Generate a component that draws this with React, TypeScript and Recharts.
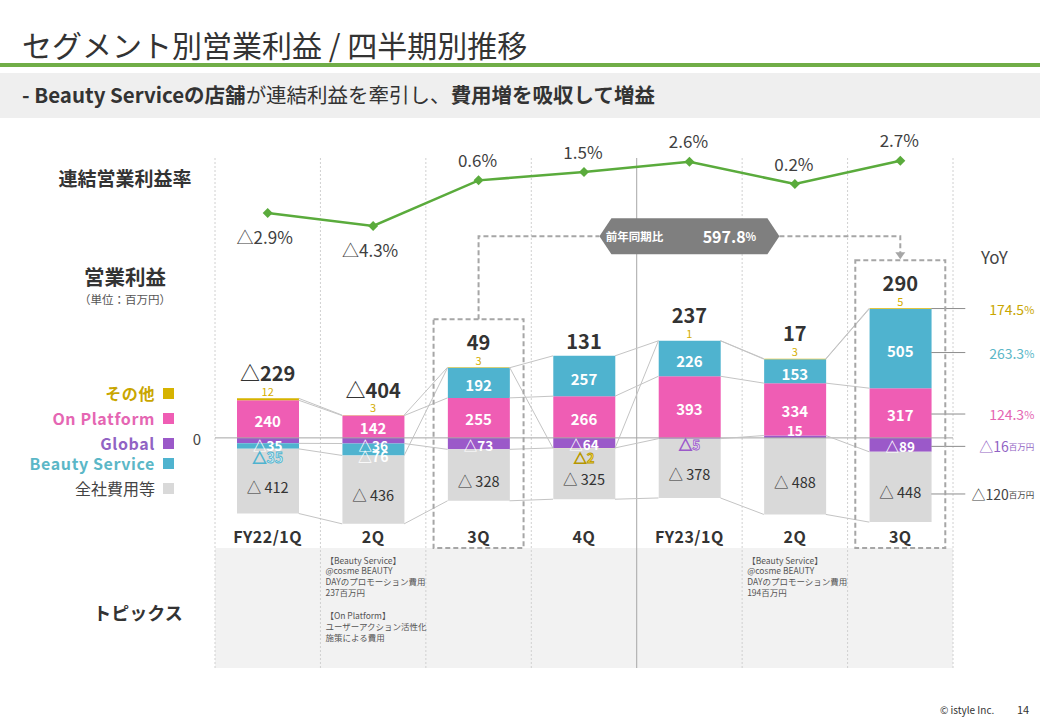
import React from "react";
import { ComposedChart, Bar, Line, XAxis, YAxis, ReferenceLine } from "recharts";

const quarters = ["FY22/1Q", "2Q", "3Q", "4Q", "FY23/1Q", "2Q", "3Q"];
const globalProfit = [-35, -36, -73, -64, -5, 15, -89];
const onPlatformProfit = [240, 142, 255, 266, 393, 334, 317];
const beautyServiceProfit = [-35, -76, 192, 257, 226, 153, 505];
const otherProfit = [12, 3, 3, -2, 1, 3, 5];
const corporateCost = [-412, -436, -328, -325, -378, -488, -448];
const totalProfit = [-229, -404, 49, 131, 237, 17, 290];
const marginRate = [-2.9, -4.3, 0.6, 1.5, 2.6, 0.2, 2.7];
const highlighted = [2, 6];
const yoyChange = "597.8";

const SERIES = [
  { key: "global", name: "Global", color: "#9b59c9", text: "#9163c4", yoy: "△16", unit: "百万円" },
  { key: "onPlatform", name: "On Platform", color: "#ef5db4", text: "#e566b3", yoy: "124.3", unit: "%" },
  { key: "beauty", name: "Beauty Service", color: "#4fb3cf", text: "#5bb7c7", yoy: "263.3", unit: "%" },
  { key: "others", name: "その他", color: "#d6b300", text: "#c9a600", yoy: "174.5", unit: "%" },
  { key: "corporate", name: "全社費用等", color: "#d9d9d9", text: "#444", yoy: "△120", unit: "百万円" },
];
const seriesValues: Record<string, number[]> = {
  global: globalProfit,
  onPlatform: onPlatformProfit,
  beauty: beautyServiceProfit,
  others: otherProfit,
  corporate: corporateCost,
};

const topicNotes = [
  {
    col: 1,
    lines: ["【Beauty Service】", "@cosme BEAUTY", "DAYのプロモーション費用", "237百万円", "", "【On Platform】", "ユーザーアクション活性化", "施策による費用"],
  },
  { col: 5, lines: ["【Beauty Service】", "@cosme BEAUTY", "DAYのプロモーション費用", "194百万円"] },
];

const FONT = "'Noto Sans CJK JP', 'Noto Sans', sans-serif";
const W = 1040;
const H = 720;
const PLOT = { left: 215, right: 953, top: 132, bottom: 532 };
const AXIS_H = 20;
const BAND = (PLOT.right - PLOT.left) / quarters.length;
const BAR = 62;
const TOPIC_TOP = 548;
const TOPIC_BOTTOM = 668;
const GRID_TOP = 158;

// stack the same way stackOffset="sign" does, to get mid / edge values for labels
const rows = quarters.map((q, i) => {
  const row: any = { id: `q${i}`, label: q, total: totalProfit[i], rate: marginRate[i] };
  let pos = 0;
  let neg = 0;
  SERIES.forEach((s) => {
    const v = seriesValues[s.key][i];
    let lo: number, hi: number;
    if (v >= 0) {
      lo = pos;
      hi = pos + v;
      pos = hi;
    } else {
      hi = neg;
      lo = neg + v;
      neg = lo;
    }
    row[s.key] = v;
    row[s.key + "Mid"] = (lo + hi) / 2;
    row[s.key + "Edge"] = v >= 0 ? hi : lo;
  });
  row.posTop = pos;
  return row;
});
const labelOf: Record<string, string> = Object.fromEntries(rows.map((r) => [r.id, r.label]));

const fmt = (v: number, space = false) => (v < 0 ? `△${space ? " " : ""}${Math.abs(v)}` : `${v}`);

const connectorDot = (p: any) => {
  const next = p.points?.[p.index + 1];
  if (!next) return <g key={`c-${p.dataKey}-${p.index}`} />;
  return (
    <line
      key={`c-${p.dataKey}-${p.index}`}
      x1={p.cx + BAR / 2}
      y1={p.cy}
      x2={next.x - BAR / 2}
      y2={next.y}
      stroke="#c4c4c4"
      strokeWidth={1}
    />
  );
};

const labelDot = (s: (typeof SERIES)[number]) => (p: any) => {
  const i = p.index;
  const v = seriesValues[s.key][i];
  let y = p.cy;
  let fill = "#fff";
  let stroke = "none";
  let size = 15;
  let weight = 700;
  let text = fmt(v);
  let yoyY = p.cy;
  if (s.key === "global") {
    size = 13.5;
    if (v > 0) y = p.cy - 7;
    else if (v > -10) {
      y = p.cy + 6;
      fill = "#efe3fb";
      stroke = "#9b59c9";
    } else y = p.cy + (v > -50 ? 4 : 1.5);
    yoyY = y;
  } else if (s.key === "onPlatform") {
    y = p.cy + 1;
    yoyY = y;
  } else if (s.key === "beauty") {
    if (v < 0 && v > -50) {
      y = p.cy + 11;
      fill = "#d8f4fb";
      stroke = "#4fb3cf";
      size = 14;
    } else if (v < 0) {
      y = p.cy + 7;
      size = 14;
    } else y = p.cy + 2;
    yoyY = p.cy + 4;
  } else if (s.key === "others") {
    if (v > 0) {
      y = p.cy - 8;
      fill = "#d4ad00";
      size = 11;
      weight = 400;
    } else {
      y = p.cy + 9;
      fill = "#ffe14d";
      stroke = "#b59600";
      size = 13;
    }
  } else {
    y = p.cy + 5;
    fill = "#333";
    weight = 400;
    size = 14.5;
    text = fmt(v, true);
    yoyY = y + 2;
  }
  const last = i === quarters.length - 1;
  return (
    <g key={`l-${s.key}-${i}`}>
      <text
        x={p.cx}
        y={y}
        textAnchor="middle"
        dominantBaseline="central"
        fontSize={size}
        fontWeight={weight}
        fill={fill}
        stroke={stroke}
        strokeWidth={0.8}
        fontFamily={FONT}
      >
        {text}
      </text>
      {last && (
        <g>
          <line x1={p.cx + BAR / 2} y1={yoyY} x2={p.cx + BAR / 2 + 34} y2={yoyY} stroke="#8c8c8c" strokeWidth={1} />
          <text
            x={p.cx + BAR / 2 + 103}
            y={yoyY}
            textAnchor="end"
            dominantBaseline="central"
            fill={s.text}
            fontFamily={FONT}
            fontSize={14}
          >
            {s.yoy}
            <tspan fontSize={s.unit === "%" ? 11 : 8.5}>{s.unit}</tspan>
          </text>
        </g>
      )}
    </g>
  );
};

const totalLabelY = (i: number, y: number) => y - (otherProfit[i] > 0 ? 26 : 15);

const renderTotal = (p: any) => {
  const i = p.index;
  const ly = totalLabelY(i, p.cy);
  const parts: React.ReactNode[] = [
    <text
      key="t"
      x={p.cx}
      y={ly}
      textAnchor="middle"
      dominantBaseline="central"
      fontSize={20}
      fontWeight={700}
      fill="#333"
      fontFamily={FONT}
    >
      {fmt(totalProfit[i])}
    </text>,
  ];
  if (highlighted.includes(i)) {
    const top = ly - 22;
    parts.push(
      <rect
        key="box"
        x={p.cx - 45}
        y={top}
        width={90}
        height={TOPIC_TOP - top}
        fill="none"
        stroke="#a6a6a6"
        strokeWidth={2}
        strokeDasharray="5 3"
      />
    );
  }
  if (i === highlighted[1] && p.points) {
    const from = p.points[highlighted[0]];
    const fromTop = totalLabelY(highlighted[0], from.y) - 22;
    const toTop = ly - 22;
    const by = Math.min(fromTop, toTop) - 24;
    const mid = (from.x + p.cx) / 2;
    const hw = 90;
    const hh = 18;
    parts.push(
      <g key="bracket">
        <path
          d={`M${from.x},${fromTop} V${by} H${mid - hw} M${mid + hw},${by} H${p.cx} V${toTop - 7}`}
          fill="none"
          stroke="#a6a6a6"
          strokeWidth={2}
          strokeDasharray="5 3"
        />
        <path d={`M${p.cx - 5},${toTop - 8} L${p.cx + 5},${toTop - 8} L${p.cx},${toTop - 1} Z`} fill="#a6a6a6" />
        <polygon
          points={`${mid - hw},${by} ${mid - hw + 12},${by - hh} ${mid + hw - 12},${by - hh} ${mid + hw},${by} ${mid + hw - 12},${by + hh} ${mid - hw + 12},${by + hh}`}
          fill="#7f7f7f"
        />
        <text x={mid - 55} y={by} textAnchor="middle" dominantBaseline="central" fill="#fff" fontSize={11.5} fontWeight={700} fontFamily={FONT}>
          前年同期比
        </text>
        <text x={mid + 40} y={by} textAnchor="middle" dominantBaseline="central" fill="#fff" fontSize={16} fontWeight={700} fontFamily={FONT}>
          {yoyChange}
          <tspan fontSize={11}>%</tspan>
        </text>
      </g>
    );
  }
  return <g key={`t-${i}`}>{parts}</g>;
};

const renderRate = (p: any) => {
  const v = marginRate[p.index];
  const r = 5;
  const neg = v < 0;
  return (
    <g key={`r-${p.index}`}>
      <polygon points={`${p.cx},${p.cy - r} ${p.cx + r},${p.cy} ${p.cx},${p.cy + r} ${p.cx - r},${p.cy}`} fill="#5aab3c" />
      <text
        x={neg ? p.cx - 3 : p.cx - 1}
        y={neg ? p.cy + 24 : p.cy - 21}
        textAnchor="middle"
        dominantBaseline="central"
        fontSize={17}
        fill="#404040"
        fontFamily={FONT}
      >
        {neg ? `△${Math.abs(v)}%` : `${v}%`}
      </text>
    </g>
  );
};

const renderTick = (p: any) => (
  <text
    x={p.x}
    y={p.y + 4}
    textAnchor="middle"
    dominantBaseline="central"
    fontSize={16}
    fontWeight={700}
    letterSpacing={0.5}
    fill="#333"
    fontFamily={FONT}
  >
    {labelOf[p.payload.value]}
  </text>
);

const legendRows = [
  { key: "others", y: 393 },
  { key: "onPlatform", y: 418 },
  { key: "global", y: 443 },
  { key: "beauty", y: 463 },
  { key: "corporate", y: 488 },
];

export default function App() {
  return (
    <div
      style={{
        position: "absolute",
        left: 0,
        top: 0,
        width: W,
        height: H,
        background: "#fff",
        fontFamily: FONT,
        color: "#333",
        overflow: "hidden",
      }}
    >
      {/* header */}
      <div style={{ position: "absolute", left: 22, top: 24, fontSize: 30, lineHeight: "40px", whiteSpace: "nowrap" }}>
        セグメント別営業利益 / 四半期別推移
      </div>
      <div style={{ position: "absolute", left: 0, top: 63, width: W, height: 4, background: "#70ad47" }} />
      <div style={{ position: "absolute", left: 0, top: 73, width: W, height: 45, background: "#efefef" }} />
      <div style={{ position: "absolute", left: 22, top: 72, lineHeight: "45px", fontSize: 20.5, whiteSpace: "nowrap" }}>
        <b>- Beauty Serviceの店舗</b>が連結利益を牽引し、<b>費用増を吸収して増益</b>
      </div>

      {/* grid + topics background */}
      <svg width={W} height={H} style={{ position: "absolute", left: 0, top: 0 }}>
        <rect x={PLOT.left} y={TOPIC_TOP} width={PLOT.right - PLOT.left} height={TOPIC_BOTTOM - TOPIC_TOP} fill="#f2f2f2" />
        {Array.from({ length: quarters.length + 1 }, (_, k) => {
          const x = PLOT.left + k * BAND;
          const solid = k === 4;
          return (
            <line
              key={k}
              x1={x}
              x2={x}
              y1={GRID_TOP}
              y2={TOPIC_BOTTOM}
              stroke={solid ? "#a6a6a6" : "#d0d0d0"}
              strokeWidth={1}
              strokeDasharray={solid ? undefined : "2 2"}
            />
          );
        })}
        <text x={197} y={438} textAnchor="middle" dominantBaseline="central" fontSize={15} fill="#444" fontFamily={FONT}>
          0
        </text>
      </svg>

      <div style={{ position: "absolute", left: 0, top: 0 }}>
        <ComposedChart
          width={W}
          height={H}
          data={rows}
          stackOffset="sign"
          margin={{ top: PLOT.top, right: W - PLOT.right, bottom: H - PLOT.bottom - AXIS_H, left: PLOT.left }}
          style={{ fontFamily: FONT }}
        >
          <XAxis dataKey="id" height={AXIS_H} axisLine={false} tickLine={false} tickSize={0} tickMargin={0} interval={0} tick={renderTick} />
          <YAxis yAxisId="bar" hide domain={[-600, 1950]} />
          <YAxis yAxisId="rate" hide domain={[-37.2, 5.8]} />
          <ReferenceLine yAxisId="bar" y={0} stroke="#a6a6a6" />
          {SERIES.map((s) => (
            <Line
              key={`c-${s.key}`}
              yAxisId="bar"
              dataKey={`${s.key}Edge`}
              stroke="none"
              dot={connectorDot}
              activeDot={false}
              isAnimationActive={false}
            />
          ))}
          {SERIES.map((s) => (
            <Bar key={s.key} yAxisId="bar" dataKey={s.key} stackId="seg" fill={s.color} barSize={BAR} isAnimationActive={false} />
          ))}
          {SERIES.map((s) => (
            <Line
              key={`l-${s.key}`}
              yAxisId="bar"
              dataKey={`${s.key}Mid`}
              stroke="none"
              dot={labelDot(s)}
              activeDot={false}
              isAnimationActive={false}
            />
          ))}
          <Line yAxisId="bar" dataKey="posTop" stroke="none" dot={renderTotal} activeDot={false} isAnimationActive={false} />
          <Line
            yAxisId="rate"
            dataKey="rate"
            stroke="#5aab3c"
            strokeWidth={2.5}
            dot={renderRate}
            activeDot={false}
            isAnimationActive={false}
          />
        </ComposedChart>
      </div>

      {/* left labels */}
      <div style={{ position: "absolute", left: 0, width: 250, top: 164, textAlign: "center", fontSize: 19, fontWeight: 700 }}>
        連結営業利益率
      </div>
      <div style={{ position: "absolute", left: 25, width: 200, top: 261, textAlign: "center", fontSize: 20.5, fontWeight: 700 }}>
        営業利益
      </div>
      <div style={{ position: "absolute", left: 25, width: 200, top: 291, textAlign: "center", fontSize: 11.5, color: "#555" }}>
        （単位：百万円）
      </div>
      {legendRows.map((l) => {
        const s = SERIES.find((x) => x.key === l.key)!;
        return (
          <div key={l.key}>
            <div
              style={{
                position: "absolute",
                right: W - 155,
                top: l.y - 11,
                lineHeight: "22px",
                fontSize: 16,
                letterSpacing: l.key === "corporate" ? 0 : 0.6,
                fontWeight: l.key === "corporate" ? 400 : 700,
                color: s.text,
                whiteSpace: "nowrap",
              }}
            >
              {s.name}
            </div>
            <div style={{ position: "absolute", left: 163, top: l.y - 5.5, width: 11, height: 11, background: s.color }} />
          </div>
        );
      })}
      <div style={{ position: "absolute", left: 38, width: 200, top: 599, textAlign: "center", fontSize: 18, fontWeight: 700 }}>
        トピックス
      </div>
      <div style={{ position: "absolute", left: 981, top: 244, fontSize: 17, color: "#444" }}>YoY</div>

      {/* topics */}
      {topicNotes.map((t) => (
        <div
          key={t.col}
          style={{ position: "absolute", left: PLOT.left + t.col * BAND + 5, top: 554.5, fontSize: 8.5, lineHeight: "10.7px", color: "#555" }}
        >
          {t.lines.map((line, k) => (line ? <div key={k}>{line}</div> : <div key={k} style={{ height: 13 }} />))}
        </div>
      ))}

      {/* footer */}
      <div style={{ position: "absolute", left: 940, top: 702, fontSize: 10, color: "#333" }}>© istyle Inc.</div>
      <div style={{ position: "absolute", left: 1017, top: 701, fontSize: 11, color: "#333" }}>14</div>
    </div>
  );
}
